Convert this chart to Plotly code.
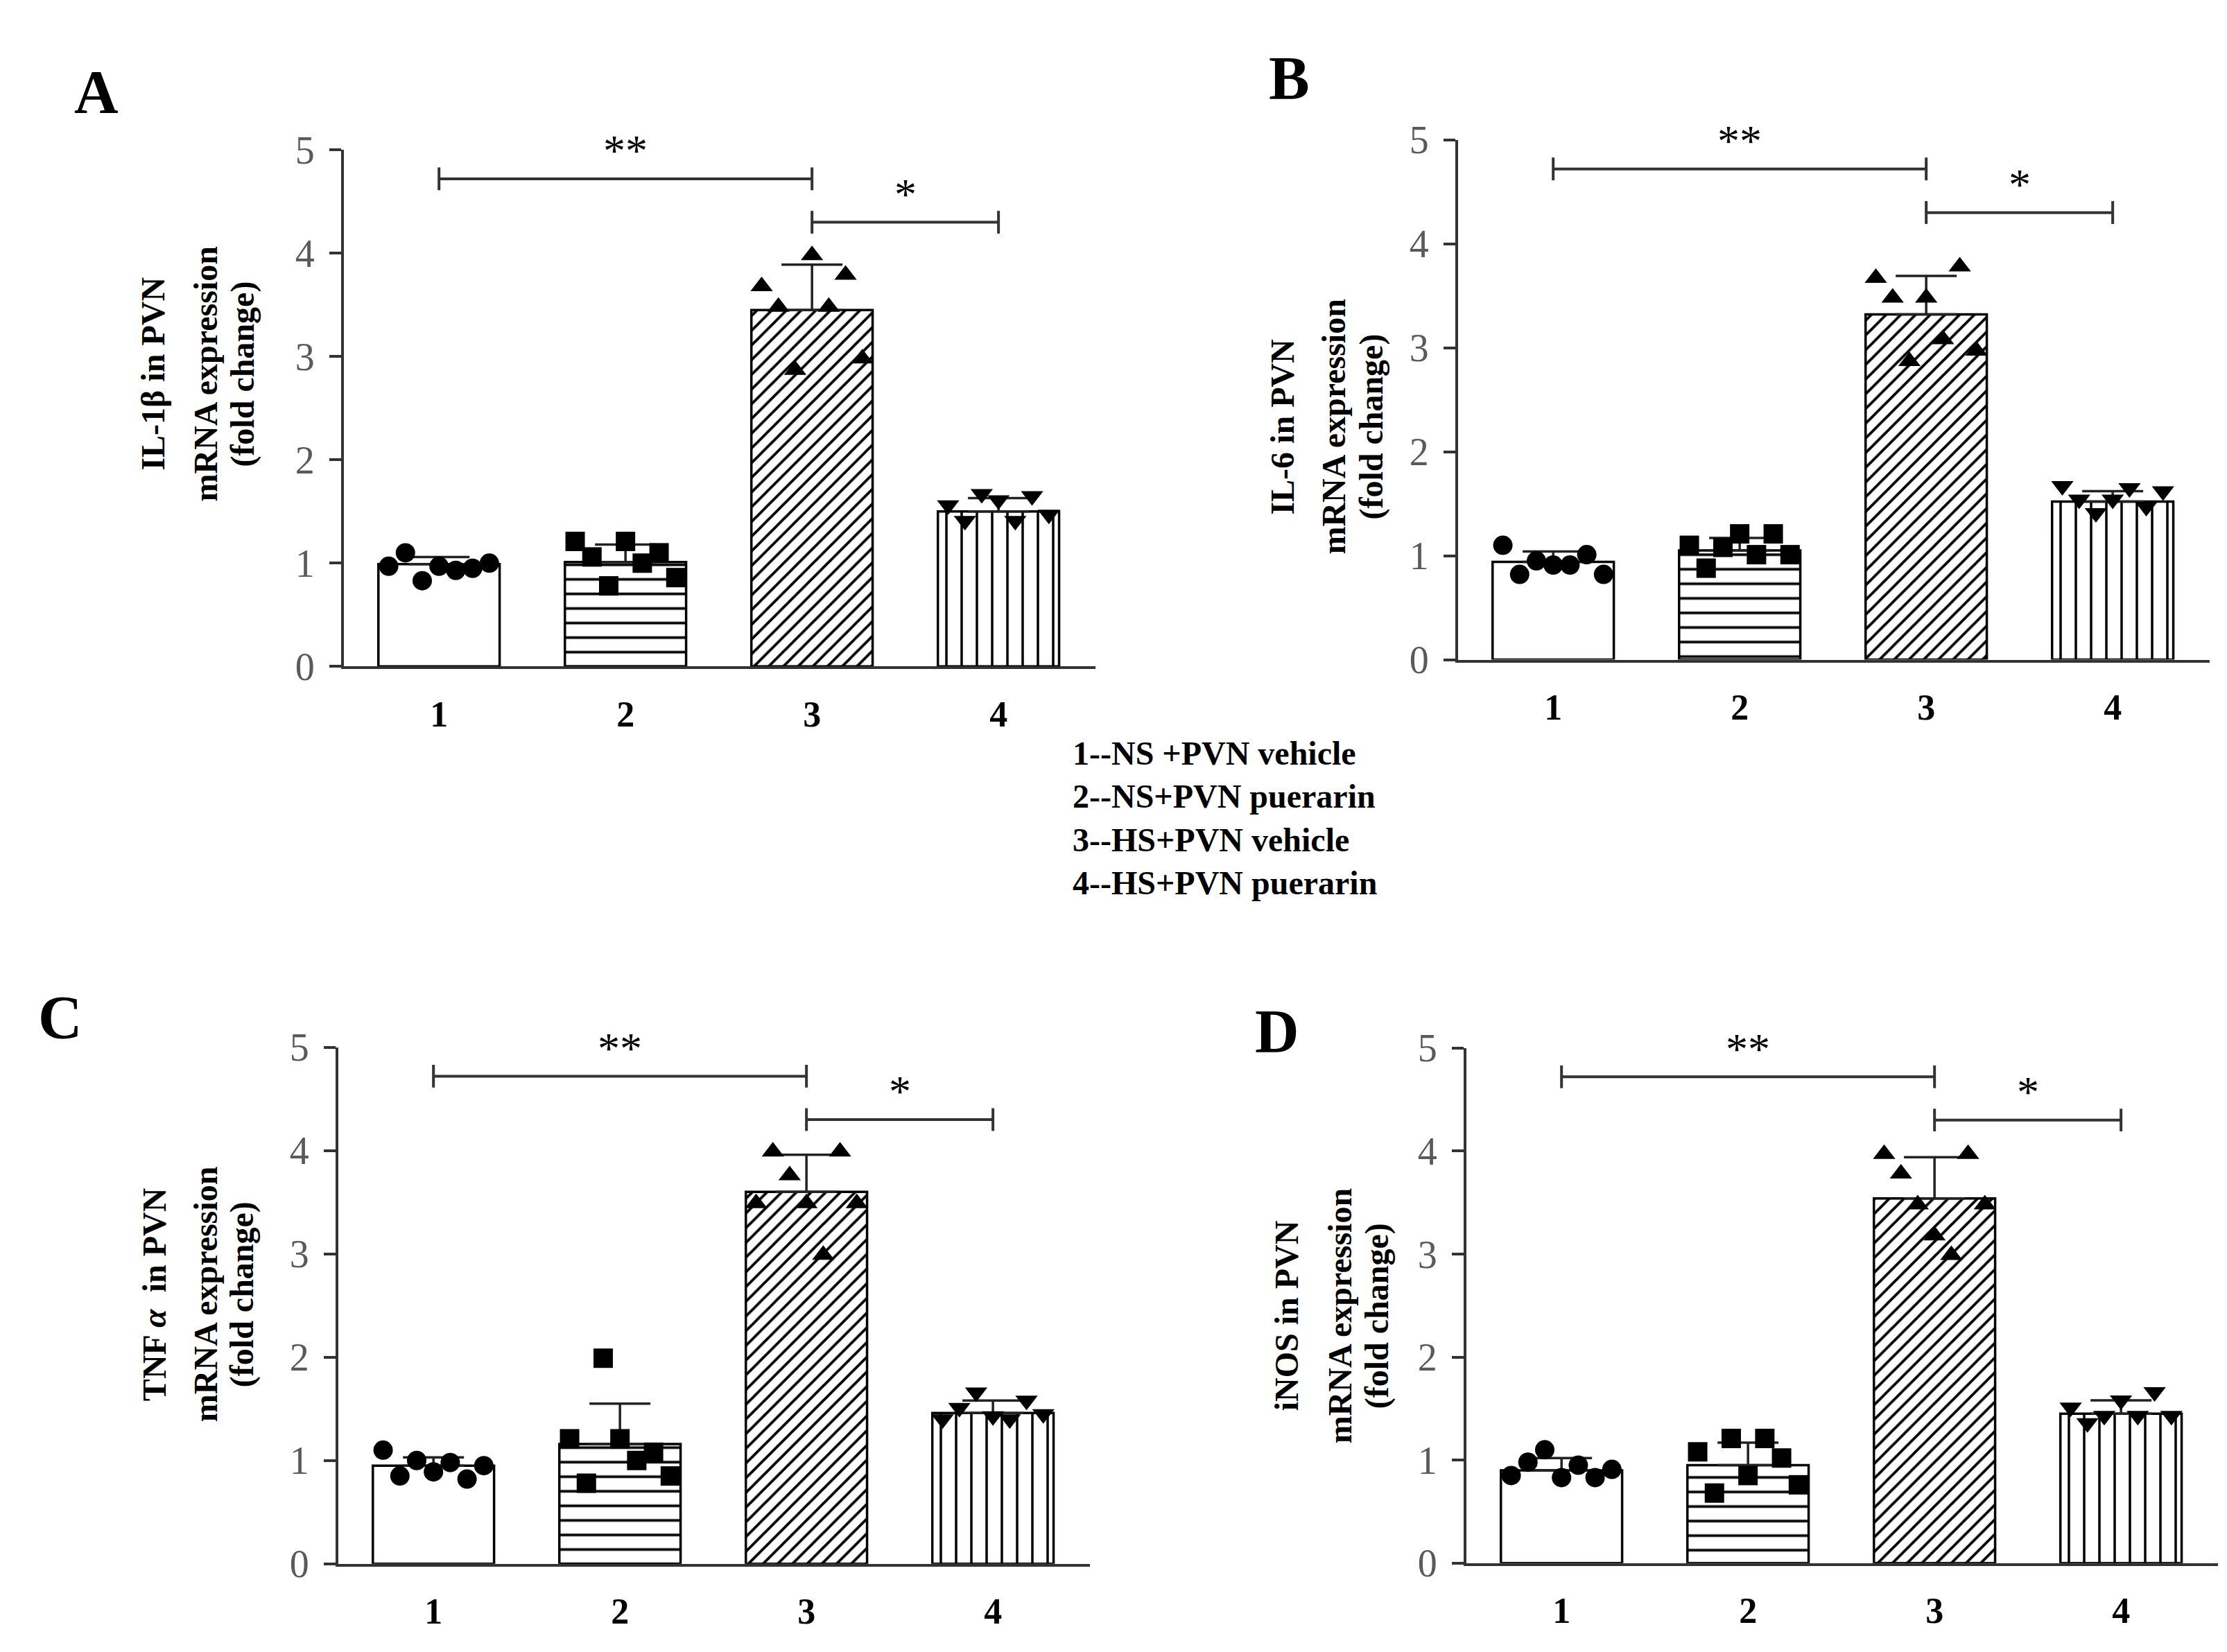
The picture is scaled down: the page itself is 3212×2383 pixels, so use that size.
import plotly.graph_objects as go
import numpy as np

W, H = 3212, 2383

# ---------------- data ----------------
groups = ["1", "2", "3", "4"]
legend_lines = ["1--NS +PVN vehicle", "2--NS+PVN puerarin",
                "3--HS+PVN vehicle", "4--HS+PVN puerarin"]
panel_letters = ["A", "B", "C", "D"]
y_titles = ["IL-1β in PVN", "IL-6 in PVN", "TNF <i>α</i>  in PVN", "iNOS in PVN"]
y_sub1 = "mRNA expression"
y_sub2 = "(fold change)"
y_ticks = [0, 1, 2, 3, 4, 5]

il1b_mean = [0.99, 1.01, 3.45, 1.50]
il1b_sd = [0.07, 0.17, 0.44, 0.13]
il1b_pts = [[0.97, 1.10, 0.83, 0.97, 0.93, 0.95, 1.00],
            [1.21, 1.06, 0.78, 1.21, 1.00, 1.10, 0.86],
            [3.68, 3.48, 2.87, 3.98, 3.48, 3.79, 2.98],
            [1.56, 1.41, 1.67, 1.61, 1.41, 1.65, 1.47]]

il6_mean = [0.94, 1.05, 3.32, 1.52]
il6_sd = [0.10, 0.12, 0.37, 0.10]
il6_pts = [[1.10, 0.82, 0.95, 0.91, 0.91, 1.01, 0.82],
           [1.10, 0.88, 1.08, 1.21, 1.01, 1.21, 1.01],
           [3.67, 3.48, 2.87, 3.48, 3.08, 3.78, 2.97],
           [1.67, 1.54, 1.41, 1.54, 1.65, 1.47, 1.62]]

tnf_mean = [0.95, 1.16, 3.60, 1.46]
tnf_sd = [0.08, 0.39, 0.36, 0.12]
tnf_pts = [[1.10, 0.85, 1.00, 0.89, 0.98, 0.82, 0.95],
           [1.21, 0.78, 1.99, 1.21, 1.00, 1.08, 0.85],
           [3.49, 3.99, 3.76, 3.49, 2.99, 3.99, 3.49],
           [1.40, 1.51, 1.66, 1.43, 1.40, 1.58, 1.45]]

inos_mean = [0.90, 0.95, 3.54, 1.45]
inos_sd = [0.12, 0.22, 0.40, 0.13]
inos_pts = [[0.85, 0.98, 1.10, 0.83, 0.95, 0.83, 0.91],
            [1.08, 0.68, 1.21, 0.85, 1.21, 1.02, 0.76],
            [3.97, 3.78, 3.48, 3.18, 2.99, 3.97, 3.48],
            [1.51, 1.36, 1.43, 1.58, 1.43, 1.66, 1.43]]

sig_pairs = [(0, 2, "**", 4.72), (2, 3, "*", 4.30)]

means = [il1b_mean, il6_mean, tnf_mean, inos_mean]
sds = [il1b_sd, il6_sd, tnf_sd, inos_sd]
pts = [il1b_pts, il6_pts, tnf_pts, inos_pts]

# ---------------- layout geometry (pixels) ----------------
geo = [
    dict(L=488, top=183, bot=948, tl=(213, 289, 342), ty=515, lx=131, ly=97),
    dict(L=2095, top=168, bot=938, tl=(1842, 1916, 1970), ty=593, lx=1851, ly=77),
    dict(L=480, top=1512, bot=2277, tl=(214, 288, 341), ty=1878, lx=79, ly=1468),
    dict(L=2107, top=1513, bot=2276, tl=(1847, 1924, 1978), ty=1910, lx=1834, ly=1488),
]
XR = [-0.51, 3.52]
AXW = 1084

def px(x):
    return x / W

def py(y):
    return 1 - y / H

symbols = ["circle", "square", "triangle-up", "triangle-down"]
patterns = ["", "-", "/", "|"]
pat_size = [10, 21, 15, 22]
pat_sol = [0.0, 0.18, 0.26, 0.16]

SERIF = "Liberation Serif, Times New Roman, serif"
AX = "#333333"

fig = go.Figure()
annotations = []
shapes = []

for k in range(4):
    g = geo[k]
    xa = "x" if k == 0 else f"x{k+1}"
    ya = "y" if k == 0 else f"y{k+1}"
    fig.add_trace(go.Bar(
        x=list(range(4)), y=means[k], width=0.65,
        xaxis=xa, yaxis=ya, showlegend=False,
        marker=dict(color="white", line=dict(color="black", width=3.5),
                    pattern=dict(shape=patterns, size=pat_size, solidity=pat_sol,
                                 fgcolor="black", bgcolor="white", fillmode="replace")),
        error_y=dict(type="data", symmetric=False, array=sds[k],
                     arrayminus=[0, 0, 0, 0], color="#222222", thickness=3.5, width=44),
    ))
    xs, ys, syms = [], [], []
    for i in range(4):
        n = len(pts[k][i])
        offs = np.linspace(-0.27, 0.27, n)
        xs += list(i + offs)
        ys += pts[k][i]
        syms += [symbols[i]] * n
    fig.add_trace(go.Scatter(
        x=xs, y=ys, mode="markers", xaxis=xa, yaxis=ya, showlegend=False,
        marker=dict(symbol=syms, size=28, color="black", line=dict(width=0)),
        cliponaxis=False,
    ))

    xd = [px(g["L"]), px(g["L"] + AXW)]
    yd = [py(g["bot"]), py(g["top"])]
    xkey = "xaxis" if k == 0 else f"xaxis{k+1}"
    ykey = "yaxis" if k == 0 else f"yaxis{k+1}"
    fig.update_layout(**{
        xkey: dict(domain=xd, range=XR, anchor=ya, tickvals=list(range(4)),
                   ticktext=groups, showline=True, linecolor=AX, linewidth=4,
                   ticks="", showgrid=False, zeroline=False, ticklabelstandoff=20,
                   tickfont=dict(family=SERIF, size=52, color="black", weight="bold")),
        ykey: dict(domain=yd, range=[0, 5], anchor=xa, tickvals=y_ticks,
                   ticks="outside", ticklen=17, tickwidth=4, tickcolor=AX,
                   showline=True, linecolor=AX, linewidth=4, showgrid=False,
                   zeroline=False, ticklabelstandoff=10,
                   tickfont=dict(family=SERIF, size=56, color="#5a5a5a")),
    })

    # significance brackets
    for (a, b, star, yv) in sig_pairs:
        shapes.append(dict(type="line", xref=xa, yref=ya, x0=a, x1=b, y0=yv, y1=yv,
                           line=dict(color=AX, width=4)))
        for e in (a, b):
            shapes.append(dict(type="line", xref=xa, yref=ya, x0=e, x1=e,
                               y0=yv - 0.11, y1=yv + 0.11, line=dict(color=AX, width=4)))
        annotations.append(dict(xref=xa, yref=ya, x=(a + b) / 2, y=yv + 0.27,
                                text=star, showarrow=False, xanchor="center",
                                yanchor="middle",
                                font=dict(family=SERIF, size=64, color="black")))

    # y title (three rotated lines)
    for txt, lxp in zip([y_titles[k], y_sub1, y_sub2], g["tl"]):
        annotations.append(dict(xref="paper", yref="paper", x=px(lxp), y=py(g["ty"]),
                                text=txt, textangle=-90,
                                showarrow=False, xanchor="center", yanchor="middle",
                                font=dict(family=SERIF, size=48, color="black",
                                          weight="bold")))
    # panel letter
    annotations.append(dict(xref="paper", yref="paper", x=px(g["lx"]), y=py(g["ly"]),
                            text=panel_letters[k], showarrow=False,
                            xanchor="center", yanchor="middle",
                            font=dict(family=SERIF, size=88, color="black", weight="bold")))

# group legend text
annotations.append(dict(xref="paper", yref="paper", x=px(1537), y=py(1172),
                        text="<br>".join(legend_lines), showarrow=False,
                        xanchor="left", yanchor="middle", align="left",
                        font=dict(family=SERIF, size=48, color="black", weight="bold")))

fig.update_layout(width=W, height=H, margin=dict(l=0, r=0, t=0, b=0),
                  paper_bgcolor="white", plot_bgcolor="white",
                  annotations=annotations, shapes=shapes, showlegend=False)

fig.write_html("out.html")
